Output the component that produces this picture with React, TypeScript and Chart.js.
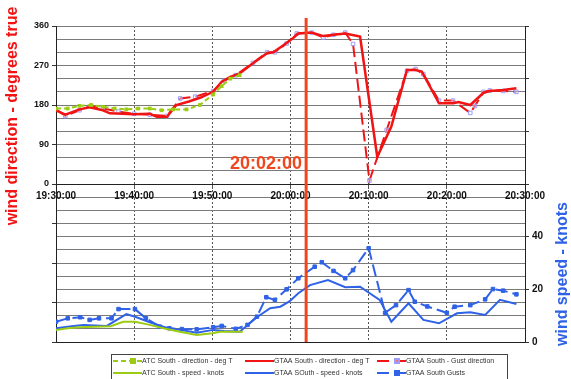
import { useEffect, useRef } from "react";
import { Chart, registerables } from "chart.js";

Chart.register(...registerables);

const FONT = "'Liberation Sans', Arial, sans-serif";

// Time axis: minutes after 19:30:00
const AXIS_START = "19:30:00";
const axisTicks = ["19:30:00", "19:40:00", "19:50:00", "20:00:00", "20:10:00", "20:20:00", "20:30:00"];
const markerTime = "20:02:00";

// ATC South - direction (deg T)
const atcDirMin = [0, 1.5, 3, 4.5, 6, 7.5, 9, 10.5, 12, 13.5, 15, 16.7, 18.4, 20.1, 21.2, 22.3, 23.5];
const atcDirDeg = [172, 172, 178, 180, 176, 172, 170, 172, 172, 168, 170, 170, 180, 204, 223, 240, 248];

// GTAA South - direction (deg T)
const gtaaDirMin = [0, 1.2, 3, 4.3, 6, 6.9, 8.5, 9.9, 12, 12.9, 14.2, 15.4, 17, 18.5, 20.1, 21.2, 22.3, 23.5, 25.2, 27, 27.8, 29, 30.3, 31, 32.7, 34.2, 35.5, 37, 38.9, 41.1, 42.9, 44.9, 45.9, 46.8, 49, 50.8, 51.5, 53, 54.7, 55.5, 57.2, 58.9];
const gtaaDirDeg = [168, 158, 170, 175, 168, 161, 160, 159, 160, 153, 153, 180, 188, 197, 210, 233, 244, 252, 275, 298, 300, 315, 332, 343, 345, 337, 340, 343, 336, 62, 131, 260, 260, 256, 184, 184, 187, 180, 208, 212, 214, 218];

// GTAA South - gust direction (deg T)
const gustDirMin = [0, 1.2, 3, 4.5, 6, 8, 10, 12, 14.2, 15.9, 17.8, 20.1, 21.5, 23, 25.2, 27, 28, 29.5, 30.8, 32.7, 34.2, 35.5, 37, 38, 40.1, 42.3, 44.9, 46, 47, 49, 50.8, 53, 53.6, 54.7, 55.5, 57.2, 58.9];
const gustDirDeg = [170, 155, 168, 178, 172, 165, 160, 158, 155, 195, 199, 212, 235, 248, 276, 300, 300, 320, 343, 345, 334, 340, 345, 319, 8, 123, 258, 262, 250, 190, 190, 162, 178, 210, 213, 212, 210];

// ATC South - speed (knots)
const atcSpdMin = [0, 1.5, 3, 5, 7, 8.6, 10.1, 12, 14, 16, 18, 20, 21, 22.5, 23.9];
const atcSpdKn = [4.6, 5.2, 5.6, 5.8, 6, 7.7, 7.7, 6.5, 5, 3.8, 2.7, 3.3, 3.9, 3.9, 3.9];

// GTAA South - speed (knots)
const gtaaSpdMin = [0, 2, 3.5, 6.5, 9, 10.3, 12, 14, 15.9, 18, 20.1, 21.5, 23.5, 25.7, 27.4, 28.7, 29.9, 31, 32.5, 34.8, 37, 38.9, 41.4, 42.9, 45.1, 47, 49, 51.3, 53, 54.9, 56.8, 58.9];
const gtaaSpdKn = [5.2, 6, 6.5, 6.1, 10.6, 9.4, 7.5, 5.5, 4.6, 3.5, 4.6, 4.2, 3.9, 9.4, 12.8, 13.4, 15.5, 18.5, 21.6, 23.5, 20.8, 21, 16, 7.7, 14.7, 8.4, 7.1, 10.9, 11.3, 10.3, 16, 14.4];

// GTAA South - gusts (knots)
const gustMin = [0, 1.5, 3.1, 4.3, 5.5, 7.1, 8, 10.1, 11.5, 13.3, 14.5, 16.1, 18, 20.1, 21.2, 23, 24.5, 25.7, 26.9, 28, 29.5, 31, 33.1, 34, 35.5, 37, 38, 40, 42.1, 43.5, 45.1, 45.9, 47.5, 50, 51, 53, 54.9, 55.9, 57.2, 58.9];
const gustKn = [7.7, 9, 9.4, 8.4, 9, 9, 12.5, 12.5, 9, 5.8, 5.2, 4.9, 4.8, 5.6, 6.1, 5, 6.5, 9.6, 17, 16, 20, 24.2, 28.6, 30.3, 27, 24.2, 27.3, 35.6, 11.1, 14, 19.7, 15.3, 13.5, 11.1, 13.4, 14, 16.2, 20.1, 19.5, 18.1];

// Axis ranges: direction spans -360..360 so its data sits in the upper half,
// speed spans 0..120 so its data sits in the lower half.
const dirLabels = [0, 90, 180, 270, 360];
const speedLabels = [0, 20, 40];

const RED = "#f01414";
const BLUE = "#2f62e6";
const GREEN = "#9ccb14";
const LAVENDER = "#9d9dff";
const ORANGE = "#f0461e";

const clockToSeconds = (c: string) => {
  const [h, m, s] = c.split(":").map(Number);
  return h * 3600 + m * 60 + (s || 0);
};
const clockToMinutes = (c: string) => (clockToSeconds(c) - clockToSeconds(AXIS_START)) / 60;
const minutesToClock = (v: number) => {
  const total = clockToSeconds(AXIS_START) + Math.round(v * 60);
  const h = Math.floor(total / 3600);
  const m = Math.floor((total % 3600) / 60);
  const s = total % 60;
  const p = (n: number) => String(n).padStart(2, "0");
  return `${p(h)}:${p(m)}:${p(s)}`;
};

const pts = (xs: number[], ys: number[]) => xs.map((x, i) => ({ x, y: ys[i] }));

const overlayPlugin = {
  id: "overlay",
  afterDatasetsDraw(chart: any) {
    const { ctx, chartArea, scales } = chart;
    const x = scales.x.getPixelForValue(clockToMinutes(markerTime));
    ctx.save();
    ctx.strokeStyle = ORANGE;
    ctx.lineWidth = 3;
    ctx.beginPath();
    ctx.moveTo(x, chartArea.top - 8);
    ctx.lineTo(x, chartArea.bottom);
    ctx.stroke();
    ctx.fillStyle = ORANGE;
    ctx.font = `bold 18px ${FONT}`;
    ctx.textAlign = "right";
    ctx.textBaseline = "middle";
    ctx.fillText(markerTime, x - 4, scales.yDir.getPixelForValue(45));
    ctx.restore();
  },
  afterDraw(chart: any) {
    const { ctx } = chart;
    ctx.save();
    // axis titles
    ctx.font = `bold 16px ${FONT}`;
    ctx.textAlign = "center";
    ctx.textBaseline = "middle";
    ctx.fillStyle = RED;
    ctx.save();
    ctx.translate(13, 116);
    ctx.rotate(-Math.PI / 2);
    ctx.fillText("wind direction - degrees true", 0, 0);
    ctx.restore();
    ctx.fillStyle = BLUE;
    ctx.save();
    ctx.translate(563, 274);
    ctx.rotate(-Math.PI / 2);
    ctx.fillText("wind speed - knots", 0, 0);
    ctx.restore();

    // legend box
    ctx.strokeStyle = "#444";
    ctx.lineWidth = 1;
    ctx.strokeRect(111.5, 354.5, 396, 40);
    const cols = [113, 245, 377];
    const rows = [361, 373];
    chart.data.datasets.forEach((ds: any, i: number) => {
      const x0 = cols[i % 3];
      const y = rows[Math.floor(i / 3)];
      ctx.save();
      ctx.strokeStyle = ds.borderColor;
      ctx.lineWidth = 2;
      ctx.setLineDash(ds.borderDash || []);
      ctx.beginPath();
      ctx.moveTo(x0, y);
      ctx.lineTo(x0 + 29, y);
      ctx.stroke();
      ctx.setLineDash([]);
      if (ds.pointRadius > 1) {
        ctx.fillStyle = ds.pointBackgroundColor;
        ctx.strokeStyle = ds.pointBorderColor;
        ctx.fillRect(x0 + 18, y - 2, 4, 4);
        ctx.strokeRect(x0 + 18, y - 2, 4, 4);
      }
      ctx.restore();
      ctx.fillStyle = "#333";
      ctx.font = `7px ${FONT}`;
      ctx.textAlign = "left";
      ctx.textBaseline = "middle";
      ctx.fillText(ds.label, x0 + 29, y);
    });
    ctx.restore();
  },
};

export default function App() {
  const ref = useRef<HTMLCanvasElement>(null);
  useEffect(() => {
    if (!ref.current) return;
    const tickFont = { family: FONT, size: 10, weight: "bold" };
    const chart = new Chart(ref.current, {
      type: "line",
      data: {
        datasets: [
          {
            label: "ATC South - direction - deg T",
            data: pts(atcDirMin, atcDirDeg),
            yAxisID: "yDir",
            borderColor: GREEN,
            borderWidth: 2,
            borderDash: [5, 3],
            pointRadius: 1.2,
            pointStyle: "rect",
            pointBackgroundColor: GREEN,
            pointBorderColor: GREEN,
          },
          {
            label: "GTAA South - direction - deg T",
            data: pts(gtaaDirMin, gtaaDirDeg),
            yAxisID: "yDir",
            borderColor: RED,
            borderWidth: 2.5,
            pointRadius: 0,
          },
          {
            label: "GTAA South - Gust direction",
            data: pts(gustDirMin, gustDirDeg),
            yAxisID: "yDir",
            borderColor: RED,
            borderWidth: 2,
            borderDash: [12, 5],
            pointRadius: 2.5,
            pointStyle: "rect",
            pointBackgroundColor: "rgba(255,255,255,0.4)",
            pointBorderColor: LAVENDER,
            pointBorderWidth: 1,
          },
          {
            label: "ATC South - speed - knots",
            data: pts(atcSpdMin, atcSpdKn),
            yAxisID: "ySpd",
            borderColor: GREEN,
            borderWidth: 2,
            pointRadius: 0,
          },
          {
            label: "GTAA SOuth - speed - knots",
            data: pts(gtaaSpdMin, gtaaSpdKn),
            yAxisID: "ySpd",
            borderColor: BLUE,
            borderWidth: 2,
            pointRadius: 0,
          },
          {
            label: "GTAA South Gusts",
            data: pts(gustMin, gustKn),
            yAxisID: "ySpd",
            borderColor: BLUE,
            borderWidth: 2,
            borderDash: [12, 5],
            pointRadius: 2.5,
            pointStyle: "rect",
            pointBackgroundColor: BLUE,
            pointBorderColor: BLUE,
            pointBorderWidth: 1,
          },
        ],
      },
      options: {
        responsive: false,
        animation: false,
        devicePixelRatio: 1,
        layout: { padding: { top: 26, bottom: 37, left: 0, right: 0 } },
        elements: { line: { tension: 0 } },
        plugins: { legend: { display: false }, tooltip: { enabled: false } },
        scales: {
          x: {
            type: "linear",
            min: clockToMinutes(axisTicks[0]),
            max: clockToMinutes(axisTicks[axisTicks.length - 1]),
            position: { yDir: 0 } as any,
            afterBuildTicks: (s: any) => {
              s.ticks = axisTicks.map((t) => ({ value: clockToMinutes(t) }));
            },
            ticks: {
              font: tickFont,
              color: "#111",
              padding: 2,
              maxRotation: 0,
              autoSkip: false,
              callback: (v: any) => minutesToClock(Number(v)),
            },
            grid: { color: "#555", tickLength: 4, tickColor: "#555" },
            border: { display: true, color: "#222", dash: [2, 2] },
            afterFit: (s: any) => {
              s.height = 0;
            },
          },
          xEdge: {
            type: "linear",
            min: 0,
            max: 60,
            position: "bottom",
            ticks: { display: false },
            grid: { display: false, drawTicks: false },
            border: { display: true, color: "#222" },
            afterFit: (s: any) => {
              s.height = 0;
            },
          },
          yDir: {
            type: "linear",
            position: "left",
            min: -360,
            max: 360,
            ticks: {
              stepSize: 30,
              autoSkip: false,
              font: { family: FONT, size: 9, weight: "bold" },
              color: "#111",
              padding: 3,
              callback: (v: any) => (dirLabels.includes(Number(v)) ? String(v) : ""),
            },
            grid: {
              color: "#7a7a7a",
              tickLength: 4,
              tickColor: (c: any) => (c.tick && c.tick.value % 90 === 0 ? "#333" : "rgba(0,0,0,0)"),
            },
            border: { display: true, color: "#222" },
            afterFit: (s: any) => {
              s.width = 56;
            },
          },
          ySpd: {
            type: "linear",
            position: "right",
            min: 0,
            max: 120,
            ticks: {
              stepSize: 20,
              autoSkip: false,
              font: tickFont,
              color: "#111",
              padding: 3,
              callback: (v: any) => (speedLabels.includes(Number(v)) ? String(v) : ""),
            },
            grid: { drawOnChartArea: false, tickLength: 4, tickColor: "#333" },
            border: { display: true, color: "#222" },
            afterFit: (s: any) => {
              s.width = 46;
            },
          },
        },
      } as any,
      plugins: [overlayPlugin],
    });
    return () => chart.destroy();
  }, []);

  return (
    <div style={{ position: "fixed", left: 0, top: 0, width: 571, height: 379, background: "#fff" }}>
      <canvas ref={ref} width={571} height={379} style={{ display: "block" }} />
    </div>
  );
}
